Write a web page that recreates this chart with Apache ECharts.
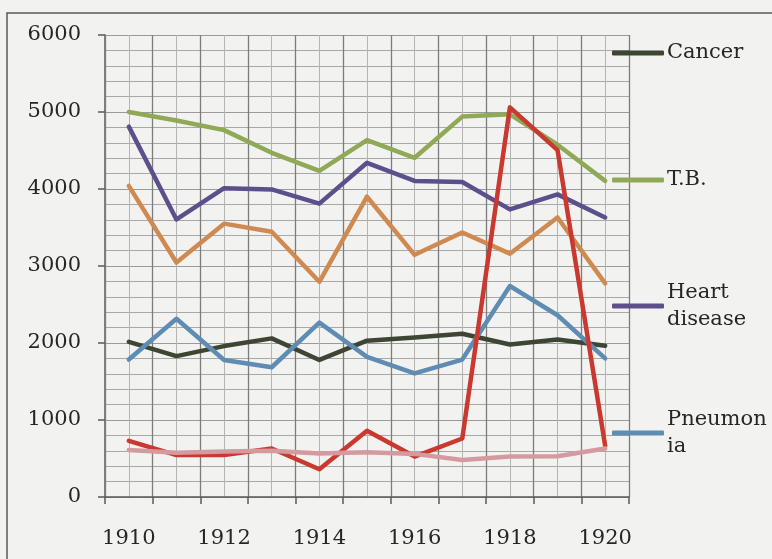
<!DOCTYPE html>
<html>
<head>
<meta charset="utf-8">
<script src="https://cdn.jsdelivr.net/npm/echarts@6/dist/echarts.min.js"></script>
<style>
html,body{margin:0;padding:0;background:#f2f2f0;}
#c{width:772px;height:559px;}
</style>
</head>
<body>
<div id="c"></div>
<script>
const years = ['1910','1911','1912','1913','1914','1915','1916','1917','1918','1919','1920'];
const cancer = [2015, 1830, 1960, 2060, 1780, 2030, 2070, 2120, 1980, 2045, 1965];
const tb = [5000, 4890, 4765, 4470, 4235, 4635, 4405, 4940, 4970, 4575, 4105];
const heart = [4810, 3605, 4010, 3995, 3810, 4340, 4105, 4090, 3735, 3930, 3630];
const pneumonia = [1785, 2315, 1780, 1685, 2265, 1820, 1605, 1785, 2740, 2360, 1800];
const series5 = [4040, 3045, 3550, 3445, 2795, 3900, 3145, 3435, 3160, 3630, 2775];
const series6 = [730, 545, 545, 630, 360, 860, 525, 760, 5060, 4505, 665];
const series7 = [610, 575, 590, 600, 565, 580, 560, 480, 525, 530, 630];
const yTicks = [0, 1000, 2000, 3000, 4000, 5000, 6000];

const FONT = 'DejaVu Serif';
const chart = echarts.init(document.getElementById('c'));

const seriesDefs = [
  {name: 'Cancer', data: cancer, color: '#3d4632'},
  {name: 'T.B.', data: tb, color: '#8fa957'},
  {name: 'Heart disease', data: heart, color: '#5d4f8c'},
  {name: 'Pneumonia', data: pneumonia, color: '#5f8cb3'},
  {name: 'series5', data: series5, color: '#cf8a52'},
  {name: 'series6', data: series6, color: '#c9392f'},
  {name: 'series7', data: series7, color: '#d59aa0'}
];

const legendTops = [53, 180, 306, 433];
const labelText = {'Heart disease': 'Heart\ndisease', 'Pneumonia': 'Pneumon\nia'};
const legends = seriesDefs.slice(0, 4).map((s, i) => {
  const multi = !!labelText[s.name];
  const centerOff = multi ? 40.5 : 13.5;
  return {
    data: [s.name],
    orient: 'vertical',
    left: 612,
    top: legendTops[i] - centerOff,
    padding: 0,
    icon: 'roundRect',
    itemWidth: 52,
    itemHeight: 5,
    selectedMode: false,
    formatter: n => labelText[n] || n,
    textStyle: {
      fontFamily: FONT, fontSize: 21, color: '#262626', lineHeight: 27,
      padding: multi ? [27, 0, 0, -2] : [0, 0, 0, -2]
    }
  };
});

chart.setOption({
  backgroundColor: '#f2f2f0',
  animation: false,
  graphic: [{
    type: 'rect',
    shape: {x: 7, y: 13, width: 800, height: 600},
    style: {fill: 'none', stroke: '#5a5a5a', lineWidth: 1.5},
    silent: true, z: -1
  }],
  legend: legends,
  grid: {left: 105, right: 143, top: 35, bottom: 62, containLabel: false},
  xAxis: [{
    type: 'category',
    data: years,
    boundaryGap: true,
    z: 2,
    axisLine: {lineStyle: {color: '#5a5a5a', width: 1.5}},
    axisTick: {show: true, interval: 0, length: 7, lineStyle: {color: '#5a5a5a', width: 1.5}},
    axisLabel: {interval: 1, margin: 31, fontFamily: FONT, fontSize: 21, color: '#262626'},
    splitLine: {show: true, interval: 0, lineStyle: {color: '#7c7c7c', width: 1.3}}
  }, {
    type: 'value',
    min: 0, max: 22, interval: 1,
    position: 'bottom',
    z: 0,
    show: true,
    axisLine: {show: false},
    axisTick: {show: false},
    axisLabel: {show: false},
    splitLine: {show: true, lineStyle: {color: '#b4b4b4', width: 1}}
  }],
  yAxis: {
    type: 'value',
    min: yTicks[0], max: yTicks[yTicks.length - 1], interval: 1000,
    axisLine: {show: true, lineStyle: {color: '#5a5a5a', width: 1.5}},
    axisTick: {show: true, length: 7, lineStyle: {color: '#5a5a5a', width: 1.5}},
    axisLabel: {margin: 24, fontFamily: FONT, fontSize: 21, color: '#262626', formatter: v => String(v)},
    splitLine: {show: true, lineStyle: {color: '#9a9a9a', width: 1.2}},
    minorTick: {show: false, splitNumber: 5},
    minorSplitLine: {show: true, lineStyle: {color: '#a8a8a8', width: 1}}
  },
  series: seriesDefs.map((s, i) => ({
    name: s.name,
    type: 'line',
    xAxisIndex: 0,
    data: s.data,
    symbol: 'none',
    z: 3 + i,
    color: s.color,
    lineStyle: {color: s.color, width: 4.5, cap: 'round', join: 'round'}
  }))
});
</script>
</body>
</html>
